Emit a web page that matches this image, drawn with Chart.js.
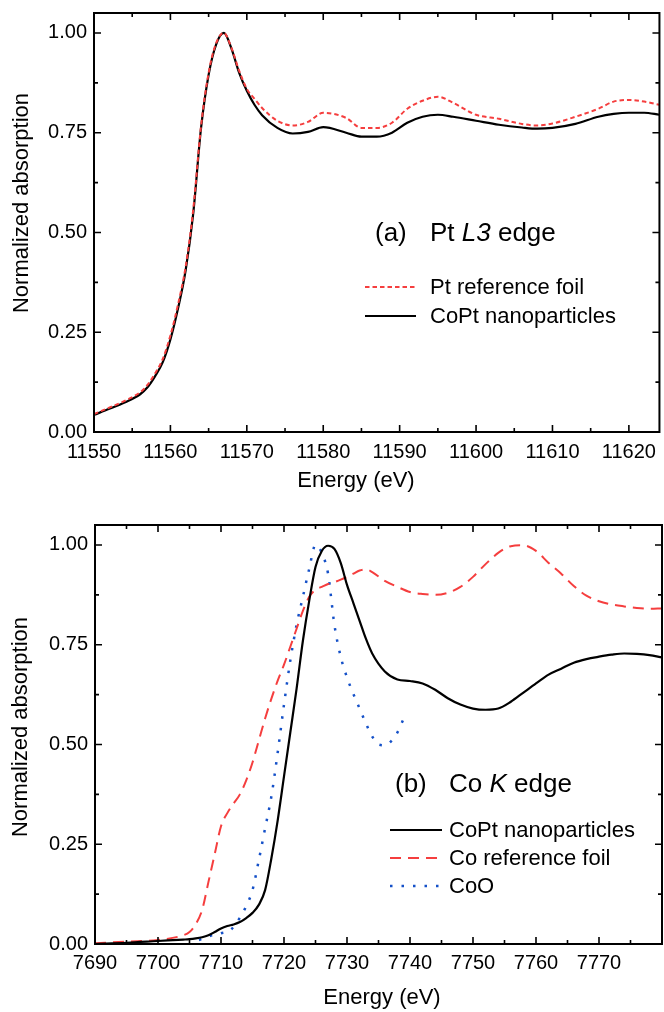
<!DOCTYPE html>
<html>
<head>
<meta charset="utf-8">
<script src="https://cdn.jsdelivr.net/npm/chart.js@4.4.0/dist/chart.umd.min.js"></script>
<style>
body { margin: 0; background: #fff; width: 664px; height: 1012px; overflow: hidden; }
.box { position: absolute; left: 0; width: 664px; }
</style>
</head>
<body>
<div class="box" style="top:0;height:500px"><canvas id="chartA" width="664" height="500"></canvas></div>
<div class="box" style="top:500px;height:512px"><canvas id="chartB" width="664" height="512"></canvas></div>
<script>
// (a) Pt L3 edge
var energyA = [11550, 11552, 11554, 11556, 11557, 11558, 11559, 11560, 11561, 11562,
    11563, 11564, 11565, 11566, 11567, 11568, 11569, 11570, 11571, 11572,
    11574, 11576, 11578, 11580, 11583, 11585, 11587, 11589, 11591, 11593,
    11595, 11597, 11600, 11603, 11606, 11608, 11610, 11613, 11616, 11618,
    11620, 11622, 11624];
var coptA = [0.043, 0.058, 0.074, 0.094, 0.112, 0.14, 0.175, 0.232, 0.31, 0.406,
    0.55, 0.76, 0.895, 0.972, 1.0, 0.96, 0.9, 0.855, 0.82, 0.794,
    0.762, 0.748, 0.752, 0.764, 0.75, 0.74, 0.74, 0.75, 0.775, 0.79,
    0.795, 0.79, 0.78, 0.77, 0.763, 0.76, 0.762, 0.772, 0.79, 0.797,
    0.80, 0.80, 0.795];
var ptFoilA = [0.045, 0.061, 0.078, 0.099, 0.118, 0.147, 0.183, 0.242, 0.32, 0.415,
    0.56, 0.765, 0.9, 0.975, 1.0, 0.962, 0.905, 0.86, 0.835, 0.812,
    0.78, 0.768, 0.777, 0.80, 0.787, 0.762, 0.762, 0.775, 0.81, 0.83,
    0.84, 0.825, 0.795, 0.785, 0.772, 0.768, 0.773, 0.79, 0.81, 0.828,
    0.832, 0.828, 0.82];
var xTicksA = [11550, 11560, 11570, 11580, 11590, 11600, 11610, 11620];

// (b) Co K edge
var energyB = [7690, 7695, 7700, 7704, 7705, 7706, 7707, 7708, 7709, 7710,
    7711, 7712, 7713, 7714, 7715, 7716, 7717, 7718, 7719, 7720,
    7721, 7722, 7723, 7724, 7725, 7726, 7727, 7728, 7729, 7730,
    7731, 7732, 7733, 7734, 7736, 7738, 7740, 7742, 7744, 7746,
    7748, 7750, 7752, 7754, 7756, 7758, 7760, 7762, 7764, 7766,
    7768, 7770, 7772, 7774, 7776, 7778, 7780];
var coptB = [0.0, 0.003, 0.0075, 0.011, 0.012, 0.014, 0.017, 0.022, 0.03, 0.039,
    0.045, 0.049, 0.055, 0.065, 0.078, 0.098, 0.135, 0.215, 0.31, 0.42,
    0.53, 0.64, 0.76, 0.86, 0.945, 0.985, 0.998, 0.99, 0.955, 0.90,
    0.855, 0.81, 0.765, 0.728, 0.683, 0.663, 0.659, 0.653, 0.637, 0.616,
    0.60, 0.59, 0.587, 0.59, 0.607, 0.63, 0.653, 0.675, 0.69, 0.705,
    0.714, 0.72, 0.725, 0.728, 0.727, 0.724, 0.718];
var coFoilB = [0.002, 0.006, 0.01, 0.022, 0.03, 0.05, 0.085, 0.155, 0.225, 0.295,
    0.328, 0.352, 0.375, 0.41, 0.455, 0.51, 0.565, 0.615, 0.66, 0.70,
    0.745, 0.79, 0.835, 0.87, 0.888, 0.895, 0.902, 0.907, 0.913, 0.92,
    0.928, 0.936, 0.939, 0.932, 0.91, 0.895, 0.882, 0.877, 0.875, 0.88,
    0.895, 0.92, 0.952, 0.98, 0.997, 0.999, 0.985, 0.955, 0.928, 0.897,
    0.873, 0.859, 0.851, 0.846, 0.842, 0.84, 0.841];
var energyCoO = [7706.5, 7708, 7710, 7711.5, 7713, 7714, 7715, 7716, 7717, 7718,
    7719, 7720, 7721, 7722, 7723, 7724, 7725, 7726, 7727, 7728,
    7729, 7730, 7731, 7732, 7733, 7734, 7735, 7736, 7737, 7738, 7739];
var coO = [0.01, 0.019, 0.027, 0.035, 0.066, 0.095, 0.135, 0.21, 0.29, 0.37,
    0.48, 0.60, 0.71, 0.80, 0.87, 0.94, 1.0, 0.98, 0.927, 0.80,
    0.72, 0.668, 0.627, 0.59, 0.553, 0.52, 0.50, 0.498, 0.508, 0.53, 0.565];
var xTicksB = [7690, 7700, 7710, 7720, 7730, 7740, 7750, 7760, 7770];

var yTicks = [0, 0.25, 0.5, 0.75, 1.0];

var FONT = '"Liberation Sans", Arial, sans-serif';
var RED = 'rgb(245, 62, 62)';
var BLUE = 'rgb(20, 80, 200)';

function toPoints(xs, ys) {
    var pts = [];
    for (var i = 0; i < xs.length; i++) {
        pts.push({ x: xs[i], y: ys[i] });
    }
    return pts;
}

function line(label, xs, ys, color, dash, width) {
    return {
        label: label,
        data: toPoints(xs, ys),
        borderColor: color,
        borderWidth: width,
        borderDash: dash,
        pointRadius: 0,
        fill: false,
        cubicInterpolationMode: 'monotone'
    };
}

function midpoints(arr) {
    var out = [];
    for (var i = 0; i < arr.length; i++) {
        var step = i < arr.length - 1 ? arr[i + 1] - arr[i] : arr[i] - arr[i - 1];
        out.push(arr[i] + step / 2);
    }
    return out;
}

// frame, inward ticks on all sides, axis titles, annotation and legend
function makeDecor(cfg) {
    return {
        id: 'decor',
        afterDraw: function (chart) {
            var ctx = chart.ctx, a = chart.chartArea;
            var xs = chart.scales.x, ys = chart.scales.y;
            ctx.save();
            ctx.strokeStyle = '#000';
            ctx.lineWidth = 2;
            ctx.strokeRect(a.left, a.top, a.right - a.left, a.bottom - a.top);

            ctx.lineWidth = 1.6;
            ctx.beginPath();
            function xTick(v, len) {
                if (v < xs.min || v > xs.max) return;
                var px = xs.getPixelForValue(v);
                ctx.moveTo(px, a.bottom); ctx.lineTo(px, a.bottom - len);
                ctx.moveTo(px, a.top); ctx.lineTo(px, a.top + len);
            }
            function yTick(v, len) {
                if (v < ys.min || v > ys.max) return;
                var py = ys.getPixelForValue(v);
                ctx.moveTo(a.left, py); ctx.lineTo(a.left + len, py);
                ctx.moveTo(a.right, py); ctx.lineTo(a.right - len, py);
            }
            cfg.xTicks.forEach(function (v) { xTick(v, 7); });
            midpoints(cfg.xTicks).forEach(function (v) { xTick(v, 4); });
            yTicks.forEach(function (v) { yTick(v, 7); });
            midpoints(yTicks).forEach(function (v) { yTick(v, 4); });
            ctx.stroke();

            ctx.fillStyle = '#000';
            ctx.font = '22px ' + FONT;
            ctx.textAlign = 'center';
            ctx.textBaseline = 'middle';
            ctx.fillText('Energy (eV)', cfg.xTitle[0], cfg.xTitle[1]);
            ctx.save();
            ctx.translate(cfg.yTitle[0], cfg.yTitle[1]);
            ctx.rotate(-Math.PI / 2);
            ctx.fillText('Normalized absorption', 0, 0);
            ctx.restore();

            // panel label, italic part in the middle
            ctx.textAlign = 'left';
            ctx.textBaseline = 'alphabetic';
            ctx.font = '26px ' + FONT;
            ctx.fillText(cfg.panel, cfg.panelPos[0], cfg.panelPos[1]);
            var x = cfg.panelPos[2];
            ctx.fillText(cfg.edge[0], x, cfg.panelPos[1]);
            x += ctx.measureText(cfg.edge[0]).width;
            ctx.font = 'italic 26px ' + FONT;
            ctx.fillText(cfg.edge[1], x, cfg.panelPos[1]);
            x += ctx.measureText(cfg.edge[1]).width;
            ctx.font = '26px ' + FONT;
            ctx.fillText(cfg.edge[2], x, cfg.panelPos[1]);

            // legend
            ctx.font = '22px ' + FONT;
            cfg.legend.forEach(function (item, i) {
                var ds = chart.data.datasets[item];
                var ly = cfg.legendY + i * cfg.legendGap;
                ctx.save();
                ctx.strokeStyle = ds.borderColor;
                ctx.lineWidth = ds.borderWidth;
                ctx.setLineDash(ds.borderDash || []);
                ctx.beginPath();
                ctx.moveTo(cfg.legendX[0], ly);
                ctx.lineTo(cfg.legendX[1], ly);
                ctx.stroke();
                ctx.restore();
                ctx.textBaseline = 'middle';
                ctx.fillText(ds.label, cfg.legendX[2], ly + 1);
            });
            ctx.restore();
        }
    };
}

function scales(xMin, xMax, xTicks, yWidth, xHeight, xPad) {
    return {
        x: {
            type: 'linear',
            min: xMin,
            max: xMax,
            afterBuildTicks: function (axis) {
                axis.ticks = xTicks.map(function (v) { return { value: v }; });
            },
            afterFit: function (axis) { axis.height = xHeight; },
            grid: { display: false, drawTicks: false },
            border: { display: false },
            ticks: {
                color: '#000',
                padding: xPad,
                maxRotation: 0,
                autoSkip: false,
                font: { family: FONT, size: 20 },
                callback: function (v) { return String(v); }
            }
        },
        y: {
            type: 'linear',
            min: 0,
            max: 1.05,
            afterBuildTicks: function (axis) {
                axis.ticks = yTicks.map(function (v) { return { value: v }; });
            },
            afterFit: function (axis) {
                axis.width = yWidth;
                axis.paddingTop = 0;
                axis.paddingBottom = 0;
            },
            grid: { display: false, drawTicks: false },
            border: { display: false },
            ticks: {
                color: '#000',
                padding: 7,
                font: { family: FONT, size: 20 },
                callback: function (v) { return v.toFixed(2); }
            }
        }
    };
}

new Chart(document.getElementById('chartA'), {
    type: 'line',
    data: {
        datasets: [
            line('Pt reference foil', energyA, ptFoilA, RED, [4.5, 3], 2),
            line('CoPt nanoparticles', energyA, coptA, '#000', [], 2.2)
        ]
    },
    options: {
        responsive: false,
        animation: false,
        layout: { padding: { top: 13, right: 1, left: 0, bottom: 0 } },
        scales: scales(11550, 11624, xTicksA, 94, 68, 8),
        plugins: { legend: { display: false }, tooltip: { enabled: false } }
    },
    plugins: [makeDecor({
        xTicks: xTicksA,
        xTitle: [356, 481],
        yTitle: [22, 203],
        panel: '(a)',
        edge: ['Pt ', 'L3', ' edge'],
        panelPos: [375, 241, 430],
        legend: [0, 1],
        legendX: [365, 416, 430],
        legendY: 287,
        legendGap: 29
    })]
});

new Chart(document.getElementById('chartB'), {
    type: 'line',
    data: {
        datasets: [
            line('CoPt nanoparticles', energyB, coptB, '#000', [], 2.2),
            line('Co reference foil', energyB, coFoilB, RED, [11, 7], 2),
            line('CoO', energyCoO, coO, BLUE, [2.5, 9], 2.5)
        ]
    },
    options: {
        responsive: false,
        animation: false,
        layout: { padding: { top: 25, right: 2, left: 0, bottom: 0 } },
        scales: scales(7690, 7780, xTicksB, 95, 68, 7),
        plugins: { legend: { display: false }, tooltip: { enabled: false } }
    },
    plugins: [makeDecor({
        xTicks: xTicksB,
        xTitle: [382, 998 - 500],
        yTitle: [21, 227],
        panel: '(b)',
        edge: ['Co ', 'K', ' edge'],
        panelPos: [395, 292, 449],
        legend: [0, 1, 2],
        legendX: [390, 442, 449],
        legendY: 330,
        legendGap: 28
    })]
});
</script>
</body>
</html>
